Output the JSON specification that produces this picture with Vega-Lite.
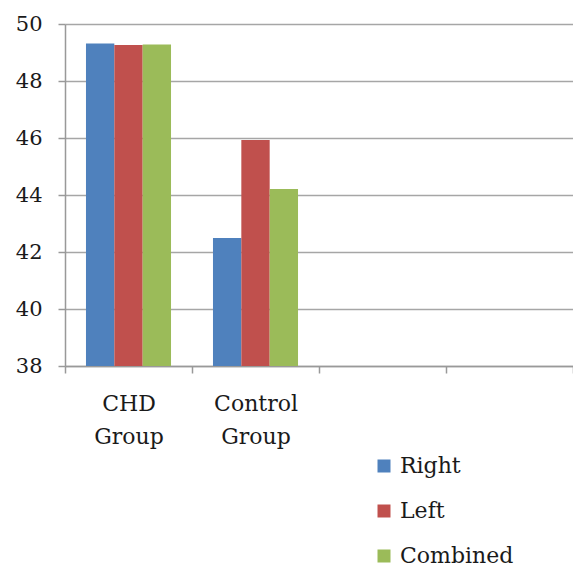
{
  "$schema": "https://vega.github.io/schema/vega-lite/v6.json",
  "autosize": "none",
  "padding": {"left": 65, "top": 24, "right": 0, "bottom": 201},
  "width": 508,
  "height": 342,
  "background": "white",
  "config": {
    "view": {"stroke": null},
    "font": "DejaVu Serif"
  },
  "data": {
    "values": [
      {"group": "CHD Group", "side": "Right", "value": 49.32},
      {"group": "CHD Group", "side": "Left", "value": 49.26},
      {"group": "CHD Group", "side": "Combined", "value": 49.28},
      {"group": "Control Group", "side": "Right", "value": 42.49},
      {"group": "Control Group", "side": "Left", "value": 45.93},
      {"group": "Control Group", "side": "Combined", "value": 44.21}
    ]
  },
  "mark": {"type": "bar", "clip": true},
  "encoding": {
    "x": {
      "field": "group",
      "type": "nominal",
      "sort": null,
      "scale": {"domain": ["CHD Group", "Control Group", " ", "  "], "paddingInner": 0, "paddingOuter": 0},
      "axis": {
        "title": null,
        "labelAngle": 0,
        "labelExpr": "split(datum.label, ' ')",
        "labelFont": "DejaVu Serif",
        "labelFontSize": 22,
        "labelColor": "#1a1a1a",
        "labelLineHeight": 33,
        "labelPadding": 20,
        "labelBaseline": "top",
        "tickBand": "extent",
        "tickSize": 7,
        "tickColor": "#999999",
        "tickWidth": 1.5,
        "domainColor": "#999999",
        "domainWidth": 1.5,
        "grid": false
      }
    },
    "xOffset": {
      "field": "side",
      "type": "nominal",
      "sort": ["Right", "Left", "Combined"],
      "scale": {"paddingInner": 0, "paddingOuter": 0.74}
    },
    "y": {
      "field": "value",
      "type": "quantitative",
      "scale": {"domain": [38, 50], "zero": false, "nice": false},
      "axis": {
        "title": null,
        "values": [38, 40, 42, 44, 46, 48, 50],
        "labelFont": "DejaVu Serif",
        "labelFontSize": 21,
        "labelColor": "#1a1a1a",
        "labelPadding": 16,
        "tickSize": 7,
        "tickColor": "#999999",
        "tickWidth": 1.5,
        "domainColor": "#999999",
        "domainWidth": 1.5,
        "grid": true,
        "gridColor": "#a6a6a6",
        "gridWidth": 1.5
      }
    },
    "color": {
      "field": "side",
      "type": "nominal",
      "sort": ["Right", "Left", "Combined"],
      "scale": {"domain": ["Right", "Left", "Combined"], "range": ["#4F81BD", "#C0504D", "#9BBB59"]},
      "legend": {
        "title": null,
        "orient": "none",
        "legendX": 308,
        "legendY": 431,
        "symbolType": "square",
        "symbolSize": 169,
        "symbolStrokeWidth": 0,
        "labelFont": "DejaVu Serif",
        "labelFontSize": 22,
        "labelColor": "#1a1a1a",
        "labelOffset": 5,
        "rowPadding": 23
      }
    }
  }
}
